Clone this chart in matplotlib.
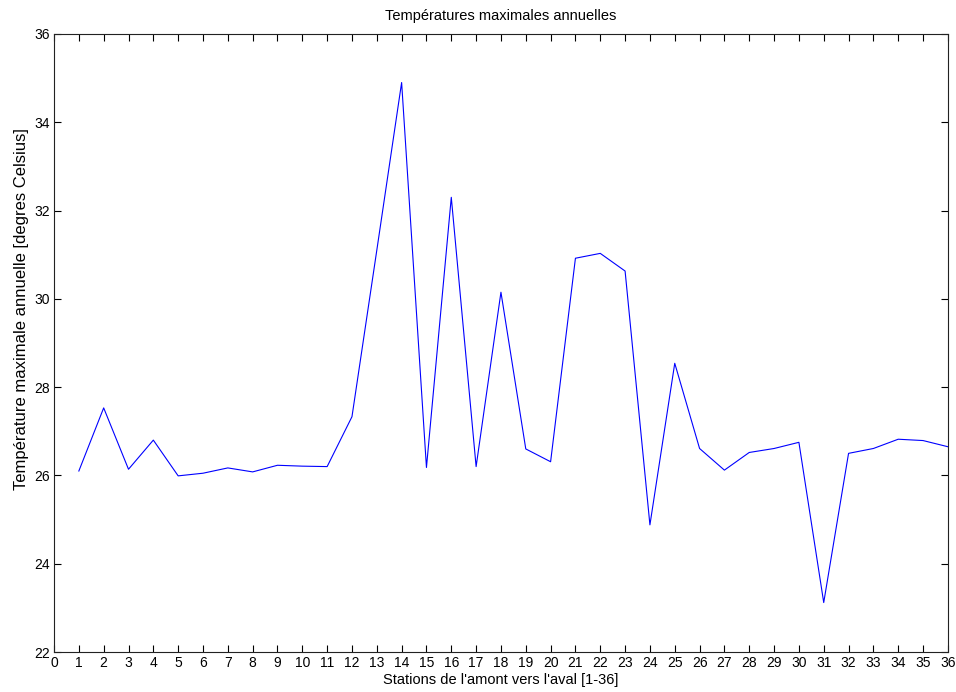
import numpy as np
import matplotlib
matplotlib.use('Agg')
import matplotlib.pyplot as plt

plt.rcParams['font.family'] = ['Liberation Sans', 'DejaVu Sans']

# Stations 1..36 and annual max temperature (deg C)
stations = list(range(1, 37))
tmax = [26.10, 27.53, 26.14, 26.80, 25.99, 26.05, 26.17, 26.08, 26.23, 26.21,
        26.20, 27.33, 31.10, 34.90, 26.18, 32.30, 26.20, 30.15, 26.60, 26.31,
        30.92, 31.03, 30.63, 24.88, 28.54, 26.61, 26.12, 26.52, 26.61, 26.75,
        23.12, 26.50, 26.61, 26.82, 26.79, 26.65]

xticks = list(range(0, 37))
yticks = list(range(22, 37, 2))

fig = plt.figure(figsize=(9.56, 6.92), dpi=100)
ax = fig.add_axes([0.0565, 0.0578, 0.935, 0.8931])

ax.plot(stations, tmax, color='#0000ff', lw=0.8)

ax.set_xlim(0, 36)
ax.set_ylim(22, 36)
ax.set_xticks(xticks)
ax.set_yticks(yticks)
ax.tick_params(direction='in', length=5, width=0.8, labelsize=10,
               top=True, right=True, pad=3)
for s in ax.spines.values():
    s.set_linewidth(0.8)
    s.set_color('#222222')

ax.set_title('Températures maximales annuelles', fontsize=10.5, pad=10)
ax.set_xlabel("Stations de l'amont vers l'aval [1-36]", fontsize=10.5, labelpad=2)
ax.set_ylabel('Température maximale annuelle [degres Celsius]', fontsize=12)
ax.yaxis.set_label_coords(-0.028, 0.555)

fig.savefig('out.png', dpi=100)
